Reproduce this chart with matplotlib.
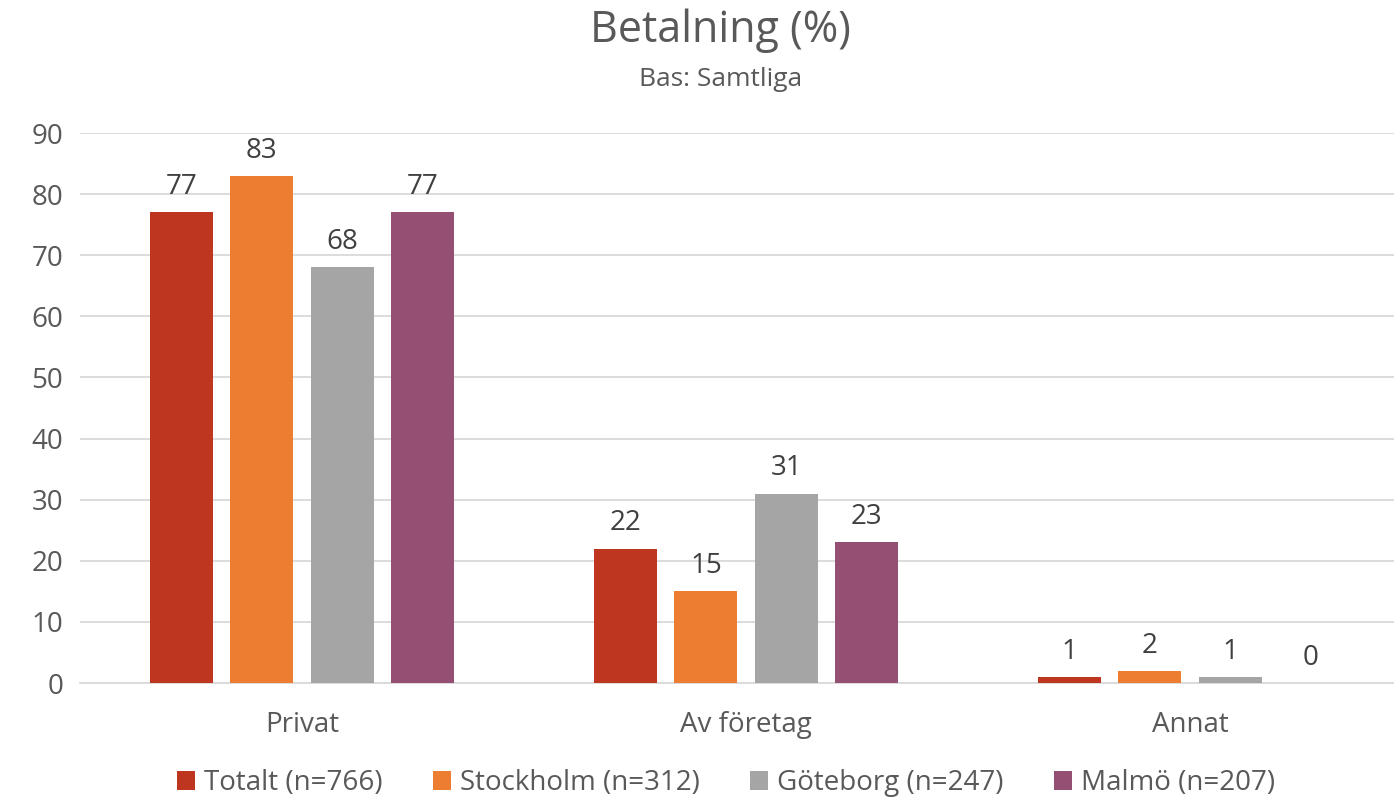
import numpy as np
import matplotlib.pyplot as plt
from matplotlib.patches import Patch

plt.rcParams['font.family'] = ['Open Sans', 'DejaVu Sans']

# data
categories = ['Privat', 'Av företag', 'Annat']
series = ['Totalt (n=766)', 'Stockholm (n=312)', 'Göteborg (n=247)', 'Malmö (n=207)']
totalt = [77, 22, 1]
stockholm = [83, 15, 2]
goteborg = [68, 31, 1]
malmo = [77, 23, 0]
colors = ['#BE3520', '#ED7D31', '#A5A5A5', '#954F72']

TEXT = '#595959'

fig = plt.figure(figsize=(13.94, 8.01), dpi=100)
fig.patch.set_facecolor('white')
ax = fig.add_axes([80 / 1394, 118 / 801, 1332 / 1394, 550 / 801])

x = np.arange(len(categories))
width = 0.142
step = 0.181
for i, (vals, col) in enumerate(zip([totalt, stockholm, goteborg, malmo], colors)):
    bars = ax.bar(x + (i - 1.5) * step, vals, width, color=col, zorder=3)
    for b, v in zip(bars, vals):
        ax.annotate(str(v), (b.get_x() + b.get_width() / 2, v),
                    xytext=(0, 8), textcoords='offset points',
                    ha='center', va='bottom', fontsize=20, color='#404040')

ax.set_xlim(-0.5, 2.5)
ax.set_ylim(0, 90)
ax.set_yticks(np.arange(0, 91, 10))
ax.set_xticks(x)
ax.set_xticklabels(categories)
ax.tick_params(axis='y', length=0, pad=12, labelsize=20, labelcolor=TEXT)
ax.tick_params(axis='x', length=0, pad=20, labelsize=20, labelcolor=TEXT)
ax.grid(axis='y', color='#D9D9D9', linewidth=1.3, zorder=0)
for s in ['top', 'right', 'left']:
    ax.spines[s].set_visible(False)
ax.spines['bottom'].set_color('#D9D9D9')
ax.spines['bottom'].set_linewidth(1.3)

fig.text(0.517, 0.962, 'Betalning (%)', ha='center', va='center',
         fontsize=31, color=TEXT)
fig.text(0.517, 0.901, 'Bas: Samtliga', ha='center', va='center',
         fontsize=19, color=TEXT)

handles = [Patch(facecolor=c, label=s) for s, c in zip(series, colors)]
fig.legend(handles=handles, loc='center', bbox_to_anchor=(0.521, 0.022),
           ncol=4, frameon=False, fontsize=20, labelcolor=TEXT,
           handlelength=0.65, handleheight=0.65, handletextpad=0.33,
           columnspacing=1.8)

fig.savefig('out.png', dpi=100, facecolor='white')
